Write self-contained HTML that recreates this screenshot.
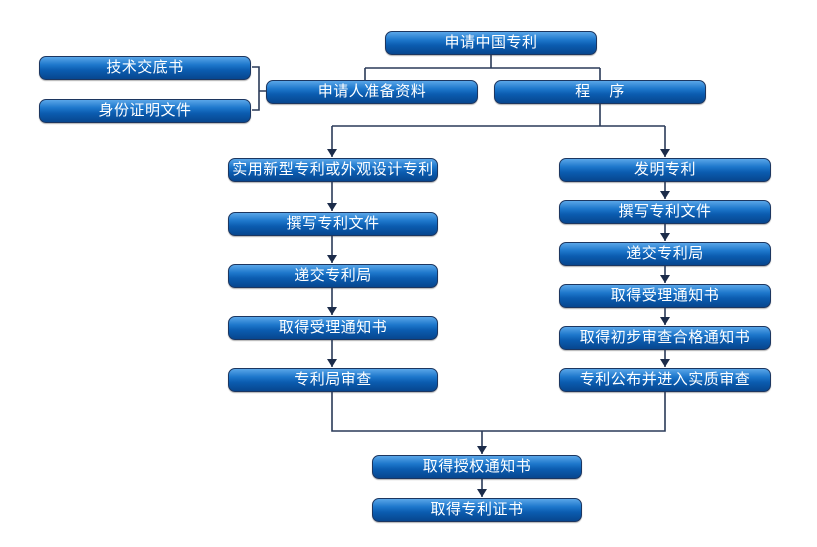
<!DOCTYPE html>
<html><head><meta charset="utf-8"><style>
body{margin:0;width:817px;height:547px;background:#fff;position:relative;overflow:hidden;font-family:"Liberation Sans","Noto Sans CJK SC",sans-serif}
.b{position:absolute;height:22px;border:1px solid #1c3660;border-radius:7px;color:#fff;font-size:15px;line-height:22px;text-align:center;letter-spacing:0.5px;z-index:1;
background:linear-gradient(#5aa6e8 0%,#1e78cc 35%,#0b5cb0 60%,#07468e 100%);box-shadow:0 1px 1px rgba(0,0,0,.3)}
svg{position:absolute;left:0;top:0;z-index:2}
</style></head><body>
<svg width="817" height="547">
<defs><marker id="a" markerWidth="10" markerHeight="10" refX="5" refY="8" orient="0" markerUnits="userSpaceOnUse"><path d="M0,0 L10,0 L5,8 z" fill="#1c2c4a"/></marker></defs>
<g stroke="#2a3a58" stroke-width="1.6" fill="none">
<path d="M491,55 V68 M365,68 H600 M365,68 V80 M600,68 V80"/>
<path d="M252,67 H259 V110 H252 M259,91 H266"/>
<path d="M600,104 V126 M332,126 H665"/>
<path d="M332,126 V157" marker-end="url(#a)"/>
<path d="M665,126 V157" marker-end="url(#a)"/>
<path d="M332,182 V211" marker-end="url(#a)"/>
<path d="M332,236 V263" marker-end="url(#a)"/>
<path d="M332,288 V315" marker-end="url(#a)"/>
<path d="M332,340 V367" marker-end="url(#a)"/>
<path d="M665,182 V199" marker-end="url(#a)"/>
<path d="M665,224 V241" marker-end="url(#a)"/>
<path d="M665,266 V283" marker-end="url(#a)"/>
<path d="M665,308 V325" marker-end="url(#a)"/>
<path d="M665,350 V367" marker-end="url(#a)"/>
<path d="M332,392 V431 H665 V392"/>
<path d="M482,431 V454" marker-end="url(#a)"/>
<path d="M482,479 V497" marker-end="url(#a)"/>
</g></svg>
<div class="b" style="left:385px;top:31px;width:210px">申请中国专利</div>
<div class="b" style="left:39px;top:56px;width:210px">技术交底书</div>
<div class="b" style="left:39px;top:99px;width:210px">身份证明文件</div>
<div class="b" style="left:266px;top:80px;width:210px">申请人准备资料</div>
<div class="b" style="left:494px;top:80px;width:210px">程&nbsp;&nbsp;&nbsp;&nbsp;序</div>
<div class="b" style="left:228px;top:158px;width:208px">实用新型专利或外观设计专利</div>
<div class="b" style="left:228px;top:212px;width:208px">撰写专利文件</div>
<div class="b" style="left:228px;top:264px;width:208px">递交专利局</div>
<div class="b" style="left:228px;top:316px;width:208px">取得受理通知书</div>
<div class="b" style="left:228px;top:368px;width:208px">专利局审查</div>
<div class="b" style="left:559px;top:158px;width:210px">发明专利</div>
<div class="b" style="left:559px;top:200px;width:210px">撰写专利文件</div>
<div class="b" style="left:559px;top:242px;width:210px">递交专利局</div>
<div class="b" style="left:559px;top:284px;width:210px">取得受理通知书</div>
<div class="b" style="left:559px;top:326px;width:210px">取得初步审查合格通知书</div>
<div class="b" style="left:559px;top:368px;width:210px">专利公布并进入实质审查</div>
<div class="b" style="left:372px;top:455px;width:208px">取得授权通知书</div>
<div class="b" style="left:372px;top:498px;width:208px">取得专利证书</div>
</body></html>
